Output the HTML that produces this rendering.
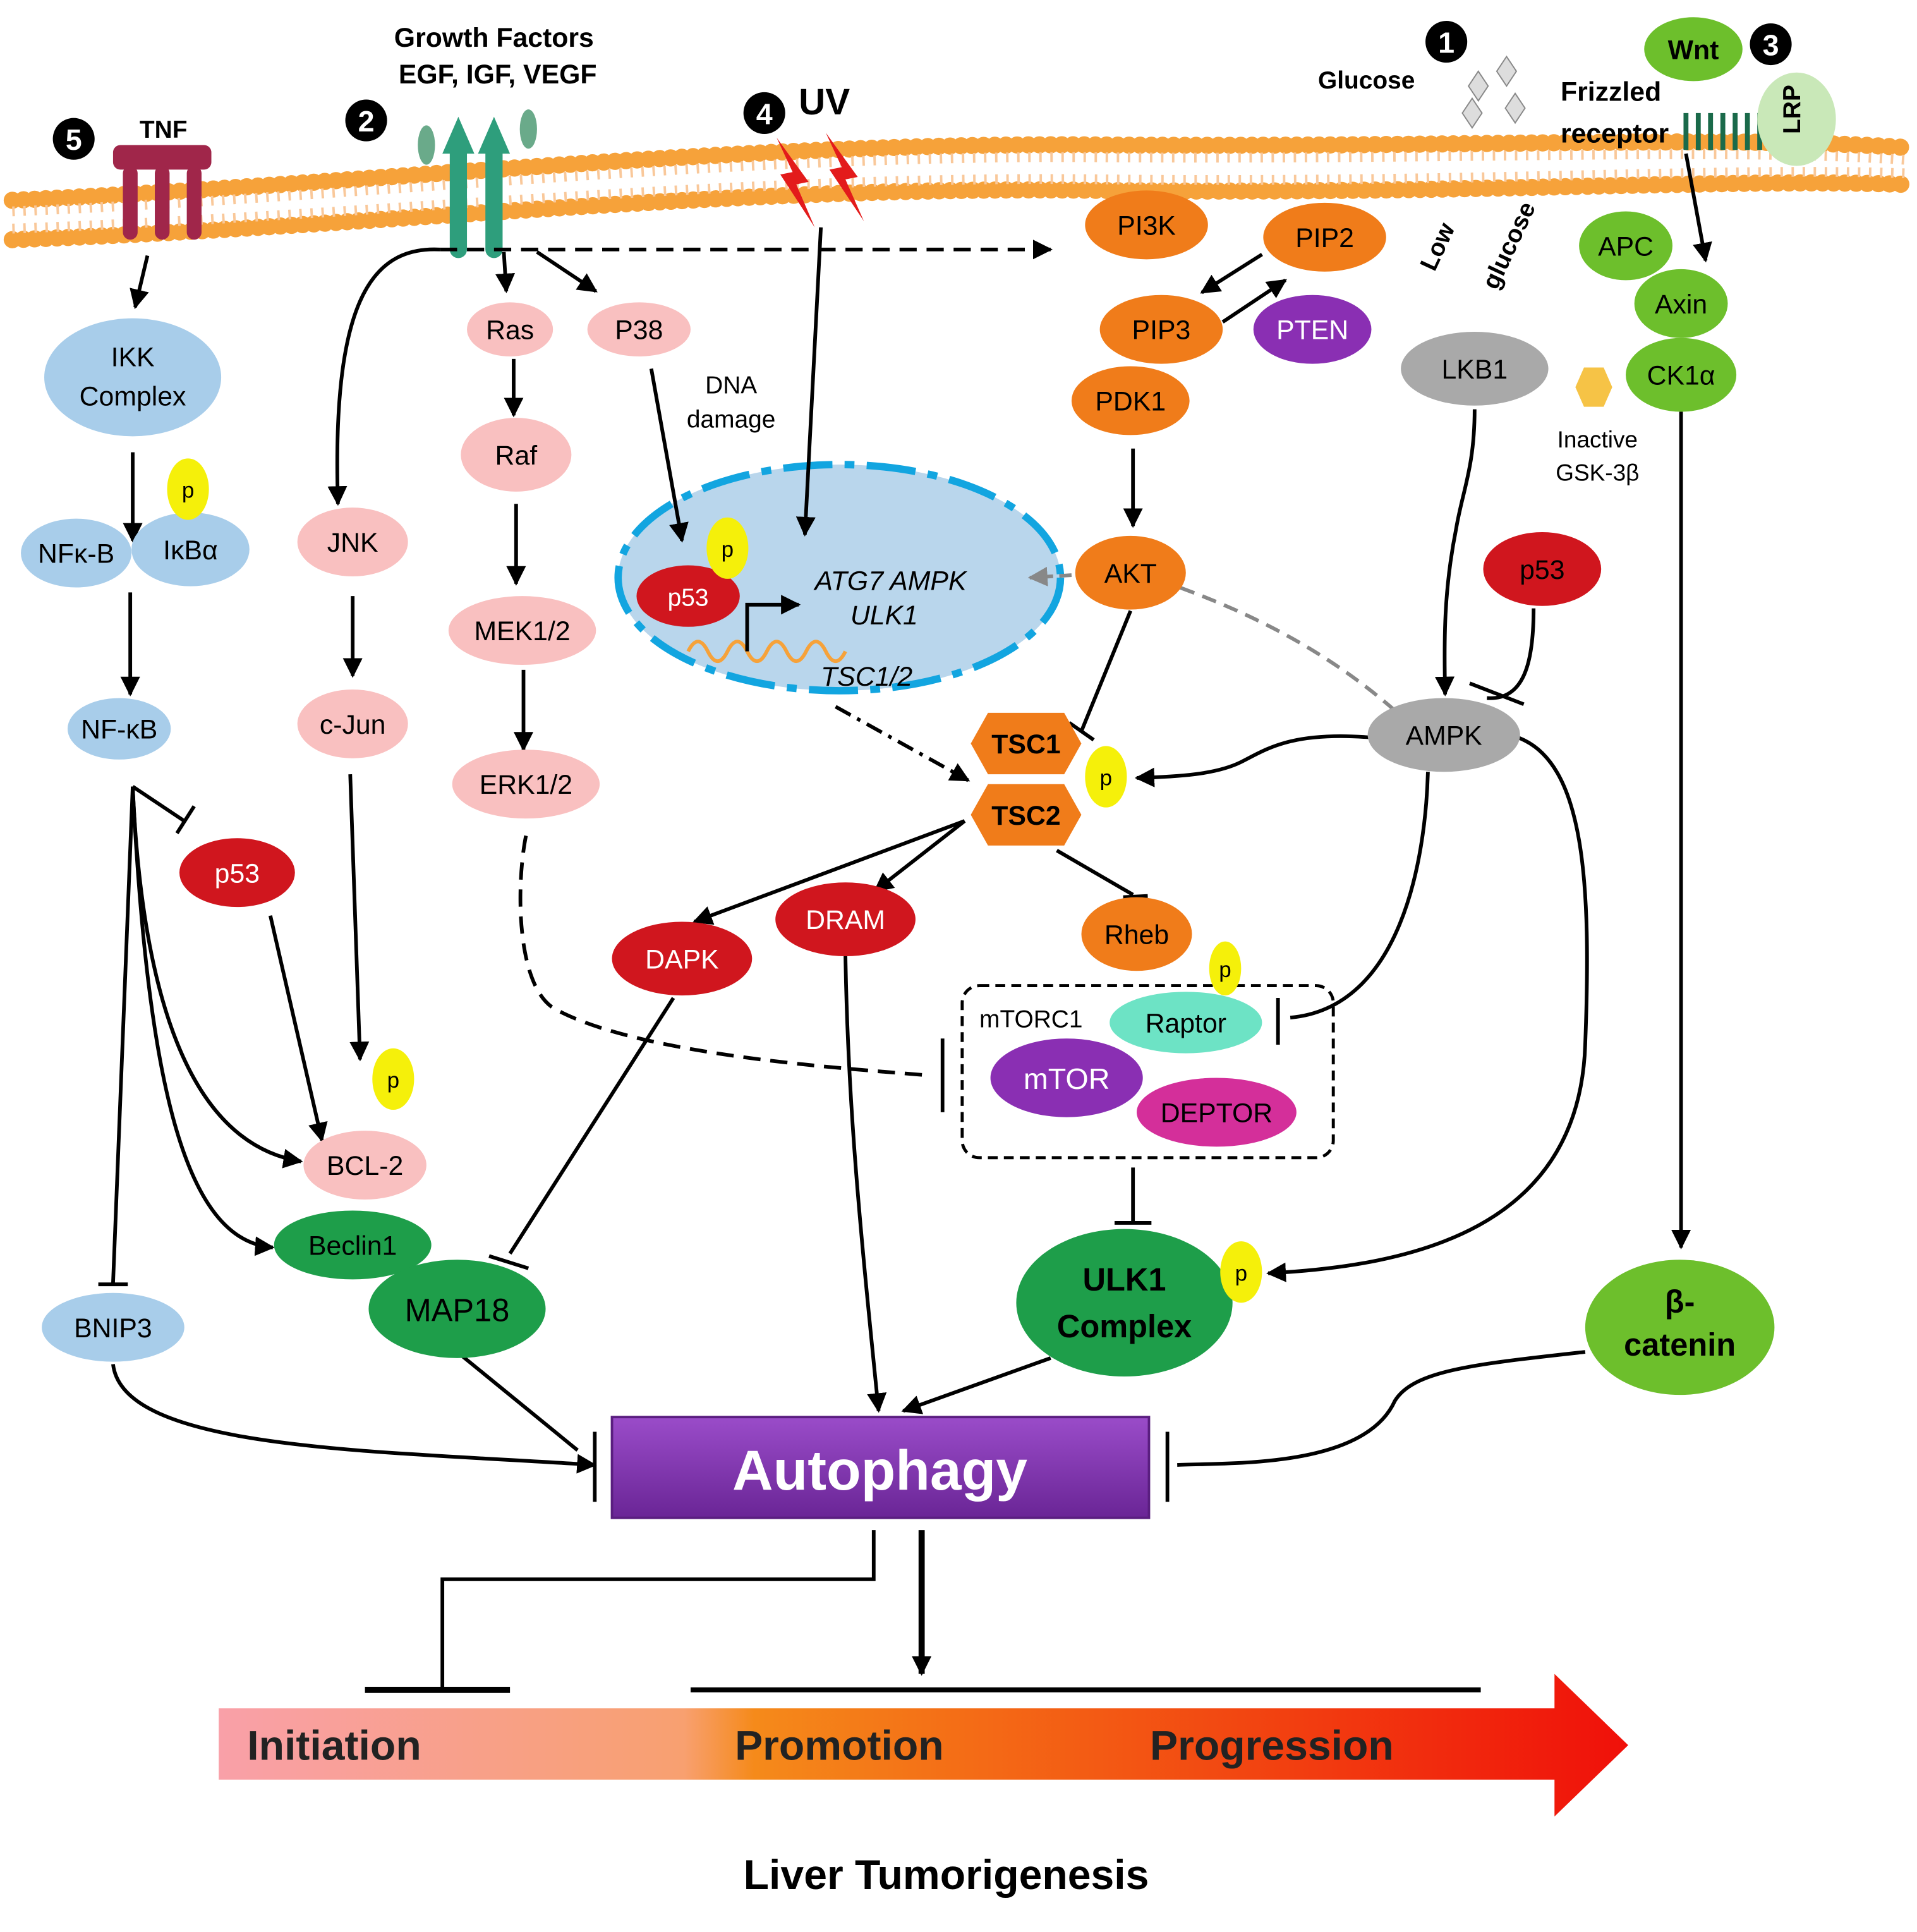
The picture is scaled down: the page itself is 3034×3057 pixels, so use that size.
<!DOCTYPE html>
<html><head><meta charset="utf-8"><style>
html,body{margin:0;padding:0;background:#fff}
svg{display:block}
text{font-family:"Liberation Sans",sans-serif}
</style></head><body>
<svg width="3034" height="3057" viewBox="0 0 1560 1572" preserveAspectRatio="none" xmlns="http://www.w3.org/2000/svg">
<defs>
<marker id="a" viewBox="0 0 10 10" refX="9" refY="5" markerWidth="7" markerHeight="7" orient="auto-start-reverse" markerUnits="userSpaceOnUse"><path d="M0,0L10,5L0,10z" fill="#000"/></marker>
<marker id="ab" viewBox="0 0 10 10" refX="9" refY="5" markerWidth="16" markerHeight="16" orient="auto" markerUnits="userSpaceOnUse"><path d="M0,0L10,5L0,10z" fill="#000"/></marker>
<marker id="ag" viewBox="0 0 10 10" refX="9" refY="5" markerWidth="16" markerHeight="16" orient="auto" markerUnits="userSpaceOnUse"><path d="M0,0L10,5L0,10z" fill="#888"/></marker>
<linearGradient id="bar" x1="0" x2="1"><stop offset="0" stop-color="#f9a0a8"/><stop offset="0.33" stop-color="#f8a070"/><stop offset="0.38" stop-color="#f58a1a"/><stop offset="1" stop-color="#f0100a"/></linearGradient>
<linearGradient id="aut" x1="0" y1="0" x2="0" y2="1"><stop offset="0" stop-color="#9a4cc9"/><stop offset="1" stop-color="#6a2596"/></linearGradient>
</defs>
<!-- membrane -->
<g fill="none">
<path d="M10,163 C300,150 600,115 900,118 C1200,120 1400,110 1550,120" stroke="#f6a23a" stroke-width="14" stroke-dasharray="0.1 9" stroke-linecap="round"/>
<path d="M10,195 C300,185 600,150 900,155 C1200,158 1400,145 1550,150" stroke="#f6a23a" stroke-width="14" stroke-dasharray="0.1 9" stroke-linecap="round"/>
<path d="M10,172 C300,160 600,125 900,128 C1200,130 1400,120 1550,130" stroke="#f9c89a" stroke-width="8" stroke-dasharray="2 7"/>
<path d="M10,186 C300,176 600,142 900,146 C1200,149 1400,136 1550,141" stroke="#f9c89a" stroke-width="8" stroke-dasharray="2 7"/>
</g>
<!-- receptors -->
<g fill="#a0264a"><rect x="92" y="118" width="80" height="20" rx="6"/><rect x="100" y="135" width="12" height="60" rx="6"/><rect x="126" y="135" width="12" height="60" rx="6"/><rect x="152" y="135" width="12" height="60" rx="6"/></g>
<text x="133" y="112" font-size="20" font-weight="bold" text-anchor="middle">TNF</text>
<g fill="#2e9e7c"><rect x="366" y="110" width="14" height="100" rx="7"/><rect x="395" y="110" width="14" height="100" rx="7"/><path d="M360,125 L373,95 L386,125z"/><path d="M389,125 L402,95 L415,125z"/><ellipse cx="347" cy="118" rx="7" ry="16" fill="#6aaa8a"/><ellipse cx="430" cy="105" rx="7" ry="16" fill="#6aaa8a"/></g>
<text x="402" y="38" font-size="22" font-weight="bold" text-anchor="middle">Growth Factors</text>
<text x="405" y="68" font-size="22" font-weight="bold" text-anchor="middle">EGF, IGF, VEGF</text>
<path d="M632,112 L645,140 L635,142 L663,185 L648,150 L658,148 z" fill="#e31b1b"/>
<path d="M672,108 L685,136 L675,138 L703,180 L688,146 L698,144 z" fill="#e31b1b"/>
<text x="650" y="93" font-size="30" font-weight="bold">UV</text>
<text x="1112" y="72" font-size="20" font-weight="bold" text-anchor="middle">Glucose</text>
<g fill="#ddd" stroke="#888"><path d="M1195,70l8,-12 8,12 -8,12z"/><path d="M1218,58l8,-12 8,12 -8,12z"/><path d="M1225,88l8,-12 8,12 -8,12z"/><path d="M1190,92l8,-12 8,12 -8,12z"/></g>
<text x="1270" y="82" font-size="22" font-weight="bold">Frizzled</text>
<text x="1270" y="116" font-size="22" font-weight="bold">receptor</text>
<g stroke="#1a6a4a" stroke-width="4"><line x1="1372" y1="92" x2="1372" y2="122"/><line x1="1382" y1="92" x2="1382" y2="122"/><line x1="1392" y1="92" x2="1392" y2="122"/><line x1="1402" y1="92" x2="1402" y2="122"/><line x1="1412" y1="92" x2="1412" y2="122"/><line x1="1422" y1="92" x2="1422" y2="122"/><line x1="1432" y1="92" x2="1432" y2="122"/></g>
<ellipse cx="1462" cy="97" rx="32" ry="38" fill="#c9e8b8"/>
<text x="1470" y="100" font-size="20" font-weight="bold" text-anchor="middle" transform="rotate(-90 1462 97)">LRP</text>
<ellipse cx="1378" cy="40" rx="40" ry="26" fill="#6dbf2c"/><text x="1378" y="48" font-size="22" font-weight="bold" text-anchor="middle">Wnt</text>
<!-- numbers -->
<g font-size="24" font-weight="bold" text-anchor="middle"><circle cx="60" cy="113" r="17"/><text x="60" y="122" fill="#fff">5</text>
<circle cx="298" cy="98" r="17"/><text x="298" y="107" fill="#fff">2</text>
<circle cx="622" cy="92" r="17"/><text x="622" y="101" fill="#fff">4</text>
<circle cx="1177" cy="34" r="17"/><text x="1177" y="43" fill="#fff">1</text>
<circle cx="1441" cy="36" r="17"/><text x="1441" y="45" fill="#fff">3</text></g>
<!-- nucleus -->
<ellipse cx="683" cy="470" rx="180" ry="92" fill="#b9d6ec" stroke="#12a5e0" stroke-width="6" stroke-dasharray="40 10 8 10"/>
<path d="M560,530 q8,-16 16,0 t16,0 t16,0 t16,0 t16,0 t16,0 t16,0 t16,0" fill="none" stroke="#f6a23a" stroke-width="3"/>
<path d="M608,530 V492 H650" fill="none" stroke="#000" stroke-width="3" marker-end="url(#ab)"/>
<g font-size="22" font-style="italic"><text x="663" y="480">ATG7  AMPK</text><text x="692" y="508">ULK1</text><text x="668" y="558">TSC1/2</text></g>
<text x="595" y="320" font-size="20" text-anchor="middle">DNA</text><text x="595" y="348" font-size="20" text-anchor="middle">damage</text>
<text x="1160" y="220" font-size="20" font-weight="bold" transform="rotate(-65 1165 215)">Low</text>
<text x="1185" y="245" font-size="20" font-weight="bold" transform="rotate(-65 1195 215)">glucose</text>
<!-- mTORC1 box -->
<rect x="783" y="802" width="302" height="140" rx="14" fill="none" stroke="#000" stroke-width="2.5" stroke-dasharray="8 5"/>
<text x="797" y="836" font-size="20">mTORC1</text>
<!-- connectors -->
<g fill="none" stroke="#000" stroke-width="3">
<path d="M120,208 L110,250" marker-end="url(#ab)"/>
<path d="M108,368 V440" marker-end="url(#ab)"/>
<path d="M106,482 V565" marker-end="url(#ab)"/>
<path d="M108,640 L150,668"/><path d="M144,678 L158,656"/>
<path d="M220,745 L262,928" marker-end="url(#ab)"/>
<path d="M108,640 C115,800 150,930 245,945" marker-end="url(#ab)"/>
<path d="M108,640 C120,880 150,1010 222,1015" marker-end="url(#ab)"/>
<path d="M108,640 L92,1044"/><path d="M80,1045 L104,1045"/>
<path d="M92,1110 C100,1180 300,1180 484,1192" marker-end="url(#ab)"/>
<path d="M372,1100 L470,1180"/>
<path d="M358,203 C300,200 270,250 275,410" marker-end="url(#ab)"/>
<path d="M358,203 H855" stroke-dasharray="14 8" marker-end="url(#ab)"/>
<path d="M410,205 L412,237" marker-end="url(#ab)"/>
<path d="M437,205 L485,237" marker-end="url(#ab)"/>
<path d="M287,485 V550" marker-end="url(#ab)"/>
<path d="M285,630 L293,862" marker-end="url(#ab)"/>
<path d="M418,292 V338" marker-end="url(#ab)"/>
<path d="M420,410 V475" marker-end="url(#ab)"/>
<path d="M426,545 V610" marker-end="url(#ab)"/>
<path d="M428,680 C420,720 420,800 450,820 C520,860 700,870 755,875" stroke-dasharray="14 8"/>
<path d="M767,845 V905"/>
<path d="M530,300 L555,440" marker-end="url(#ab)"/>
<path d="M668,185 L655,435" marker-end="url(#ab)"/>
<path d="M548,812 L415,1020"/><path d="M398,1022 L430,1032"/>
<path d="M688,778 C690,900 700,1000 715,1148" marker-end="url(#ab)"/>
<path d="M855,1105 L735,1148" marker-end="url(#ab)"/>
<path d="M1290,1100 C1200,1110 1150,1115 1135,1140 C1110,1195 1000,1190 958,1192"/>
<path d="M950,1165 V1222"/><path d="M484,1165 V1222"/>
<path d="M1027,207 L978,238" marker-end="url(#ab)"/>
<path d="M995,262 L1046,228" marker-end="url(#ab)"/>
<path d="M922,365 V428" marker-end="url(#ab)"/>
<path d="M920,497 L880,595"/><path d="M870,588 L890,602"/>
<path d="M680,575 L788,635" stroke-dasharray="14 6 3 6" marker-end="url(#ab)"/>
<path d="M1200,333 C1200,380 1190,400 1185,430 C1175,480 1175,520 1176,565" marker-end="url(#ab)"/>
<path d="M1248,495 C1248,540 1240,570 1210,568"/><path d="M1196,556 L1240,573"/>
<path d="M1115,600 C1050,595 1030,610 1010,620 C990,630 960,632 925,633" marker-end="url(#ab)"/>
<path d="M1162,628 C1160,700 1140,820 1050,828"/><path d="M1040,812 V850"/>
<path d="M1235,600 C1290,620 1295,720 1290,850 C1285,1000 1150,1030 1032,1036" marker-end="url(#ab)"/>
<path d="M1368,335 V1015" marker-end="url(#ab)"/>
<path d="M1372,125 L1388,212" marker-end="url(#ab)"/>
<path d="M785,668 L565,750" marker-end="url(#ab)"/>
<path d="M785,668 L712,725" marker-end="url(#ab)"/>
<path d="M860,692 L922,728"/><path d="M914,730 L934,729"/>
<path d="M922,950 V995"/><path d="M907,995 H937"/>
<path d="M711,1245 V1285 H360 V1375"/>
<path d="M750,1245 V1362" stroke-width="5" marker-end="url(#ab)"/>
<path d="M297,1375 H415" stroke-width="5"/>
<path d="M562,1375 H1205" stroke-width="4"/>
</g>
<path d="M1135,578 C1080,530 1020,500 960,478" fill="none" stroke="#888" stroke-width="3" stroke-dasharray="12 7"/>
<path d="M872,468 L838,470" fill="none" stroke="#888" stroke-width="3" stroke-dasharray="10 5" marker-end="url(#ag)"/>
<!-- nodes -->
<g font-size="22" text-anchor="middle">
<ellipse cx="108" cy="307" rx="72" ry="48" fill="#a8cdea"/><text x="108" y="298">IKK</text><text x="108" y="330">Complex</text>
<ellipse cx="62" cy="450" rx="45" ry="28" fill="#a8cdea"/><text x="62" y="458">NFκ-B</text>
<ellipse cx="155" cy="447" rx="48" ry="30" fill="#a8cdea"/><text x="155" y="455">IκBα</text>
<ellipse cx="97" cy="593" rx="42" ry="25" fill="#a8cdea"/><text x="97" y="601">NF-κB</text>
<ellipse cx="193" cy="710" rx="47" ry="28" fill="#d0161e"/><text x="193" y="718" fill="#fff">p53</text>
<ellipse cx="92" cy="1080" rx="58" ry="28" fill="#a8cdea"/><text x="92" y="1088">BNIP3</text>
<ellipse cx="287" cy="441" rx="45" ry="28" fill="#f9c0c0"/><text x="287" y="449">JNK</text>
<ellipse cx="287" cy="589" rx="45" ry="28" fill="#f9c0c0"/><text x="287" y="597">c-Jun</text>
<ellipse cx="297" cy="948" rx="50" ry="28" fill="#f9c0c0"/><text x="297" y="956">BCL-2</text>
<ellipse cx="287" cy="1013" rx="64" ry="28" fill="#1e9e4a"/><text x="287" y="1021">Beclin1</text>
<ellipse cx="372" cy="1065" rx="72" ry="40" fill="#1e9e4a"/><text x="372" y="1075" font-size="26">MAP18</text>
<ellipse cx="415" cy="268" rx="35" ry="22" fill="#f9c0c0"/><text x="415" y="276">Ras</text>
<ellipse cx="520" cy="268" rx="42" ry="22" fill="#f9c0c0"/><text x="520" y="276">P38</text>
<ellipse cx="420" cy="370" rx="45" ry="30" fill="#f9c0c0"/><text x="420" y="378">Raf</text>
<ellipse cx="425" cy="513" rx="60" ry="28" fill="#f9c0c0"/><text x="425" y="521">MEK1/2</text>
<ellipse cx="428" cy="638" rx="60" ry="28" fill="#f9c0c0"/><text x="428" y="646">ERK1/2</text>
<ellipse cx="560" cy="485" rx="42" ry="25" fill="#d0161e"/><text x="560" y="493" fill="#fff" font-size="20">p53</text>
<ellipse cx="933" cy="183" rx="50" ry="28" fill="#f07c1a"/><text x="933" y="191">PI3K</text>
<ellipse cx="1078" cy="193" rx="50" ry="28" fill="#f07c1a"/><text x="1078" y="201">PIP2</text>
<ellipse cx="945" cy="268" rx="50" ry="28" fill="#f07c1a"/><text x="945" y="276">PIP3</text>
<ellipse cx="1068" cy="268" rx="48" ry="28" fill="#8a2fb3"/><text x="1068" y="276" fill="#fff">PTEN</text>
<ellipse cx="920" cy="326" rx="48" ry="28" fill="#f07c1a"/><text x="920" y="334">PDK1</text>
<ellipse cx="920" cy="466" rx="45" ry="30" fill="#f07c1a"/><text x="920" y="474">AKT</text>
<ellipse cx="1200" cy="300" rx="60" ry="30" fill="#a9a9a9"/><text x="1200" y="308">LKB1</text>
<path d="M1282,315 l7,-16 h16 l7,16 l-7,16 h-16z" fill="#f6c346"/>
<text x="1300" y="364" font-size="19">Inactive</text><text x="1300" y="391" font-size="19">GSK-3β</text>
<ellipse cx="1255" cy="463" rx="48" ry="30" fill="#d0161e"/><text x="1255" y="471">p53</text>
<ellipse cx="1175" cy="598" rx="62" ry="30" fill="#a9a9a9"/><text x="1175" y="606">AMPK</text>
<ellipse cx="1323" cy="200" rx="38" ry="28" fill="#6dbf2c"/><text x="1323" y="208">APC</text>
<ellipse cx="1368" cy="247" rx="38" ry="28" fill="#6dbf2c"/><text x="1368" y="255">Axin</text>
<ellipse cx="1368" cy="305" rx="45" ry="30" fill="#6dbf2c"/><text x="1368" y="313">CK1α</text>
<path d="M790,605 l14,-25 h62 l14,25 l-14,25 h-62z" fill="#f07c1a"/><text x="835" y="613" font-weight="bold">TSC1</text>
<path d="M790,663 l14,-25 h62 l14,25 l-14,25 h-62z" fill="#f07c1a"/><text x="835" y="671" font-weight="bold">TSC2</text>
<ellipse cx="925" cy="760" rx="45" ry="30" fill="#f07c1a"/><text x="925" y="768">Rheb</text>
<ellipse cx="688" cy="748" rx="57" ry="30" fill="#d0161e"/><text x="688" y="756" fill="#fff">DRAM</text>
<ellipse cx="555" cy="780" rx="57" ry="30" fill="#d0161e"/><text x="555" y="788" fill="#fff">DAPK</text>
<ellipse cx="965" cy="832" rx="62" ry="25" fill="#6de3c5"/><text x="965" y="840">Raptor</text>
<ellipse cx="868" cy="877" rx="62" ry="32" fill="#8a2fb3"/><text x="868" y="886" fill="#fff" font-size="24">mTOR</text>
<ellipse cx="990" cy="905" rx="65" ry="28" fill="#d42f9a"/><text x="990" y="913">DEPTOR</text>
<ellipse cx="915" cy="1060" rx="88" ry="60" fill="#1e9e4a"/><text x="915" y="1050" font-size="26" font-weight="bold">ULK1</text><text x="915" y="1088" font-size="26" font-weight="bold">Complex</text>
<ellipse cx="1367" cy="1080" rx="77" ry="55" fill="#6dbf2c"/><text x="1367" y="1068" font-size="26" font-weight="bold">β-</text><text x="1367" y="1103" font-size="26" font-weight="bold">catenin</text>
<g fill="#f5f00a"><ellipse cx="153" cy="398" rx="17" ry="25"/><ellipse cx="320" cy="878" rx="17" ry="25"/><ellipse cx="592" cy="446" rx="17" ry="25"/><ellipse cx="900" cy="632" rx="17" ry="25"/><ellipse cx="997" cy="788" rx="13" ry="22"/><ellipse cx="1010" cy="1035" rx="17" ry="25"/></g>
<g font-size="18"><text x="153" y="405">p</text><text x="320" y="885">p</text><text x="592" y="453">p</text><text x="900" y="639">p</text><text x="997" y="795">p</text><text x="1010" y="1042">p</text></g>
</g>
<!-- Autophagy -->
<rect x="498" y="1153" width="437" height="82" fill="url(#aut)" stroke="#5a1e80" stroke-width="2"/>
<text x="716" y="1212" font-size="46" font-weight="bold" fill="#fff" text-anchor="middle">Autophagy</text>
<!-- bottom arrow -->
<path d="M178,1390 H1265 V1362 L1325,1420 L1265,1478 V1448 H178z" fill="url(#bar)"/>
<g font-size="34" font-weight="bold" text-anchor="middle" fill="#222"><text x="272" y="1432">Initiation</text><text x="683" y="1432">Promotion</text><text x="1035" y="1432">Progression</text></g>
<text x="770" y="1537" font-size="34" font-weight="bold" text-anchor="middle">Liver Tumorigenesis</text>
</svg>
</body></html>
